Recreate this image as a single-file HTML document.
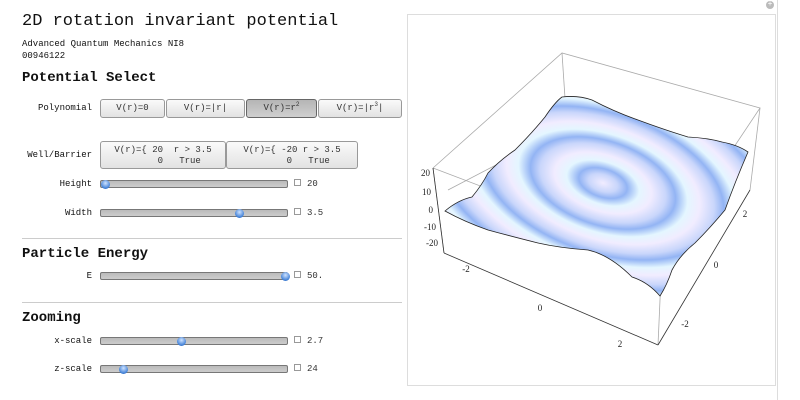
<!DOCTYPE html>
<html><head><meta charset="utf-8"><style>
body{margin:0;width:800px;height:400px;background:#fff;position:relative;overflow:hidden;font-family:"Liberation Mono","Noto Sans CJK SC",monospace;color:#111}
.a{position:absolute}
.lbl{position:absolute;font-size:9px;text-align:right;width:80px;left:12px}
.btn{position:absolute;border:1px solid #999;border-radius:3px;background:linear-gradient(#fafafa,#e2e2e2);font-size:9px;text-align:center;box-sizing:border-box;color:#333}
.btn.on{background:linear-gradient(#b5b5b5,#cfcfcf);border-color:#666}
.sl{position:absolute;left:100px;width:188px;height:8px;border:1px solid #777;border-radius:2px;background:linear-gradient(#bbb,#ccc);box-sizing:border-box}
.th{position:absolute;width:9px;height:9px;border-radius:50%;background:radial-gradient(circle at 50% 35%,#cfe3ff,#3f7fd6 70%,#2a5ca8);margin-left:-4px;top:-1px}
.val{position:absolute;left:294px;font-size:9px;color:#333}
.val:before{content:"";display:inline-block;width:5px;height:5px;border:1px solid #999;margin-right:6px}
h2{position:absolute;margin:0;font-size:14px;font-weight:bold;left:22px}
.sep{position:absolute;left:22px;width:380px;height:1px;background:#ccc}
</style></head><body>
<div class="a" style="left:777px;top:0;width:1px;height:400px;background:#ddd"></div>
<div class="a" style="left:766px;top:1px;width:8px;height:8px;border-radius:50%;background:#bbb;color:#fff;font-size:8px;line-height:8px;text-align:center">+</div>
<div class="a" style="left:22px;top:12px;font-size:17px">2D rotation invariant potential</div>
<div class="a" style="left:22px;top:38px;font-size:9px;line-height:12px">Advanced Quantum Mechanics NI8<br>00946122</div>
<h2 style="top:70px">Potential Select</h2>
<div class="lbl" style="top:103px">Polynomial</div>
<div class="btn" style="left:100px;top:99px;width:65px;height:19px;line-height:17px">V(r)=0</div>
<div class="btn" style="left:166px;top:99px;width:79px;height:19px;line-height:17px">V(r)=|r|</div>
<div class="btn on" style="left:246px;top:99px;width:71px;height:19px;line-height:17px">V(r)=r<sup style="font-size:6px;line-height:0">2</sup></div>
<div class="btn" style="left:318px;top:99px;width:84px;height:19px;line-height:17px">V(r)=|r<sup style="font-size:6px;line-height:0">3</sup>|</div>
<div class="lbl" style="top:150px">Well/Barrier</div>
<div class="btn" style="left:100px;top:141px;width:126px;height:28px;line-height:11px;padding-top:3px">V(r)={ 20 &nbsp;r &gt; 3.5<br>&nbsp;&nbsp;&nbsp;&nbsp;&nbsp;&nbsp;0 &nbsp;&nbsp;True</div>
<div class="btn" style="left:226px;top:141px;width:132px;height:28px;line-height:11px;padding-top:3px">V(r)={ -20 r &gt; 3.5<br>&nbsp;&nbsp;&nbsp;&nbsp;&nbsp;&nbsp;0 &nbsp;&nbsp;True</div>
<div class="lbl" style="top:179px">Height</div>
<div class="sl" style="top:180px"><div class="th" style="left:4px"></div></div>
<div class="val" style="top:179px">20</div>
<div class="lbl" style="top:208px">Width</div>
<div class="sl" style="top:209px"><div class="th" style="left:138px"></div></div>
<div class="val" style="top:208px">3.5</div>
<div class="sep" style="top:238px"></div>
<h2 style="top:246px">Particle Energy</h2>
<div class="lbl" style="top:271px">E</div>
<div class="sl" style="top:272px"><div class="th" style="left:184px"></div></div>
<div class="val" style="top:271px">50.</div>
<div class="sep" style="top:302px"></div>
<h2 style="top:310px">Zooming</h2>
<div class="lbl" style="top:336px">x-scale</div>
<div class="sl" style="top:337px"><div class="th" style="left:80px"></div></div>
<div class="val" style="top:336px">2.7</div>
<div class="lbl" style="top:364px">z-scale</div>
<div class="sl" style="top:365px"><div class="th" style="left:22px"></div></div>
<div class="val" style="top:364px">24</div>

<svg class="a" style="left:0;top:0" width="800" height="400">
<defs>
<radialGradient id="rg" gradientUnits="userSpaceOnUse" cx="0" cy="0" r="40" spreadMethod="repeat" gradientTransform="translate(603,183) rotate(18) scale(1.25,0.7)">
<stop offset="0" stop-color="#f1ecff"/><stop offset="0.3" stop-color="#c9d6fb"/><stop offset="0.5" stop-color="#93b4f4"/><stop offset="0.75" stop-color="#e4f6ff"/><stop offset="1" stop-color="#f1ecff"/>
</radialGradient>
</defs>
<rect x="407.5" y="14.5" width="368" height="371" fill="none" stroke="#ddd"/>
<g stroke="#aaa" stroke-width="0.8" fill="none">
<polyline points="433,168 562,53 760,108 662,255 433,168"/>
<line x1="562" y1="53" x2="567" y2="128"/>
<line x1="567" y1="128" x2="738" y2="150"/>
<line x1="567" y1="128" x2="448" y2="190"/>
<line x1="760" y1="108" x2="750" y2="190"/>
<line x1="662" y1="255" x2="658" y2="345"/>
<line x1="433" y1="168" x2="444" y2="253"/>
</g>
<path d="M445,211 Q458,200 472,197 Q482,185 488,173 Q500,160 515,150 Q532,133 545,117 Q555,102 562,97 Q578,95 592,100 Q615,112 638,120 Q665,130 688,137 Q708,138 722,142 Q738,145 748,152 Q735,182 725,210 Q710,228 695,243 Q680,255 672,270 Q667,285 660,296 Q648,282 632,277 Q610,255 588,250 Q560,248 538,243 Q510,236 488,230 Q465,222 445,211 Z" fill="url(#rg)" stroke="#222" stroke-width="0.8"/>
<g stroke="#333" stroke-width="0.8" fill="none">
<line x1="433" y1="168" x2="444" y2="253"/>
<line x1="444" y1="253" x2="658" y2="345"/>
<line x1="658" y1="345" x2="750" y2="190"/>
</g>
<g font-family="Liberation Serif, serif" font-size="9" fill="#222">
<text x="430" y="176" text-anchor="end">20</text><text x="431" y="195" text-anchor="end">10</text><text x="433" y="213" text-anchor="end">0</text><text x="436" y="230" text-anchor="end">-10</text><text x="438" y="246" text-anchor="end">-20</text>
<text x="466" y="272" text-anchor="middle">-2</text><text x="540" y="311" text-anchor="middle">0</text><text x="620" y="347" text-anchor="middle">2</text>
<text x="745" y="217" text-anchor="middle">2</text><text x="716" y="268" text-anchor="middle">0</text><text x="685" y="327" text-anchor="middle">-2</text>
</g>
</svg>
</body></html>
